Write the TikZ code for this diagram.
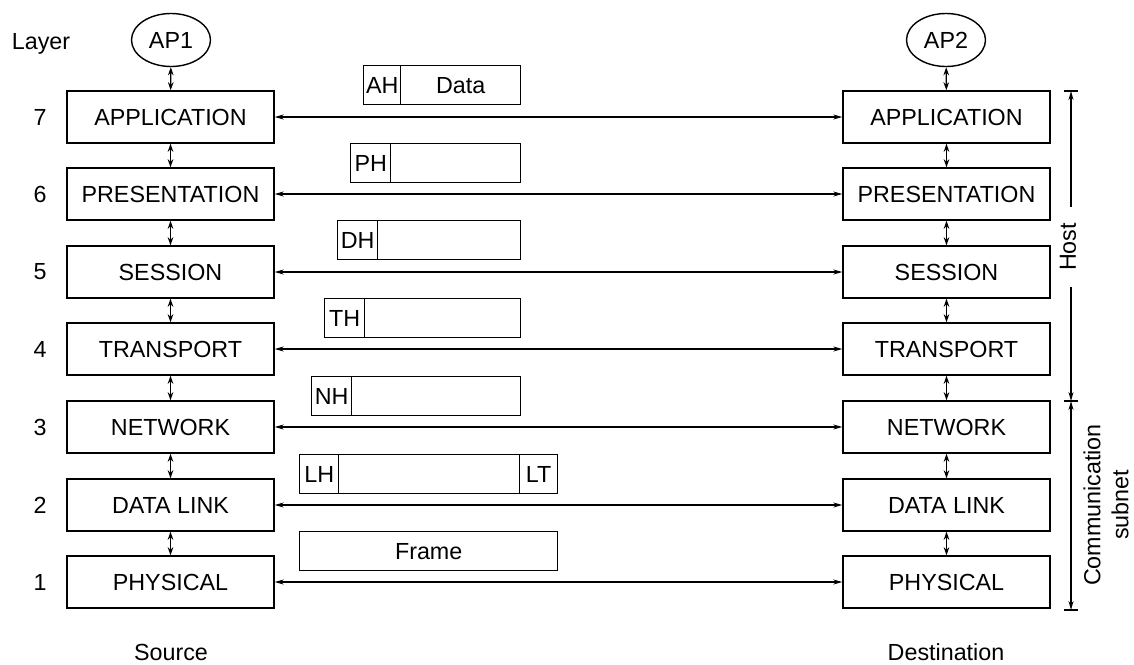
\documentclass[tikz,border=0pt]{standalone}
\usepackage{fontspec}
\setmainfont{Liberation Sans}
\usetikzlibrary{arrows.meta,shapes.geometric}
\begin{document}
\begin{tikzpicture}[x=1pt,y=-1pt,
  every node/.style={font=\fontsize{23.3}{27}\selectfont, inner sep=0pt},
  layerbox/.style={draw, line width=1.4pt, minimum width=207pt, minimum height=52pt},
  hdr/.style={draw, line width=1.4pt, minimum height=39pt, anchor=north west},
  apnode/.style={draw, ellipse, line width=1.4pt, minimum width=79pt, minimum height=53pt},
  peer/.style={line width=1.2pt, {Stealth[length=9pt,width=5pt]}-{Stealth[length=9pt,width=5pt]}},
  vert/.style={line width=1.3pt, {Stealth[length=8pt,width=5.5pt]}-{Stealth[length=8pt,width=5.5pt]}},
  brk/.style={line width=1.2pt}
]
\useasboundingbox (0,0) rectangle (1134,664);

% layer labels
\node (layer) at (41,44) {Layer};
\foreach \n/\y in {7/117,6/194,5/272,4/349,3/427,2/505,1/582}
  \node (num\n) at (40,\y) {\n};

% application processes
\node[apnode] (ap1) at (171,40) {AP1};
\node[apnode] (ap2) at (946,40) {AP2};

% layer boxes
\foreach \n/\y/\t in {7/117/APPLICATION,6/194/PRESENTATION,5/272/SESSION,4/349/TRANSPORT,3/427/NETWORK,2/505/DATA LINK,1/582/PHYSICAL}{
  \node[layerbox] (l\n) at (170.5,\y) {\t};
  \node[layerbox] (r\n) at (946.5,\y) {\t};
  \draw[peer] (l\n) -- (r\n);
}

% vertical arrows
\draw[vert] (ap1) -- (l7);
\draw[vert] (ap2) -- (r7);
\foreach \a/\b in {7/6,6/5,5/4,4/3,3/2,2/1}{
  \draw[vert] (l\a) -- (l\b);
  \draw[vert] (r\a) -- (r\b);
}

% header boxes
\node[hdr, minimum width=37pt] (ah) at (363,65) {AH};
\node[hdr, minimum width=120pt] (data) at (400,65) {Data};
\node[hdr, minimum width=40pt] (ph) at (350,143) {PH};
\node[hdr, minimum width=130pt] (phd) at (390,143) {};
\node[hdr, minimum width=40pt] (dh) at (337,220) {DH};
\node[hdr, minimum width=143pt] (dhd) at (377,220) {};
\node[hdr, minimum width=40pt] (th) at (324,298) {TH};
\node[hdr, minimum width=156pt] (thd) at (364,298) {};
\node[hdr, minimum width=40pt] (nh) at (311,376) {NH};
\node[hdr, minimum width=169pt] (nhd) at (351,376) {};
\node[hdr, minimum width=39pt] (lh) at (299,454) {LH};
\node[hdr, minimum width=181pt] (lhd) at (338,454) {};
\node[hdr, minimum width=38pt] (lt) at (519,454) {LT};
\node[hdr, minimum width=258pt] (frame) at (299,531) {Frame};

% right-hand brackets
\coordinate (h1) at (1071,91);
\coordinate (h2) at (1071,207);
\coordinate (h3) at (1071,287);
\coordinate (h4) at (1071,401);
\coordinate (c2) at (1071,610);
\draw[brk, -{Stealth[length=9pt,width=5pt]}] (h2) -- (h1);
\draw[brk, -{Stealth[length=9pt,width=5pt]}] (h3) -- (h4);
\draw[brk, {Stealth[length=9pt,width=5pt]}-{Stealth[length=9pt,width=5pt]}] (h4) -- (c2);
\draw[brk] (1064,91) -- (1078,91);
\draw[brk] (1064,401) -- (1078,401);
\draw[brk] (1064,610) -- (1078,610);
\node[rotate=90] (host) at (1068,247) {Host};
\node[rotate=90, align=center, font=\fontsize{23.3}{28}\selectfont] (comm) at (1106,505) {Communication\\subnet};

% bottom labels
\node (src) at (171,652) {Source};
\node (dst) at (946,652) {Destination};
\end{tikzpicture}
\end{document}
